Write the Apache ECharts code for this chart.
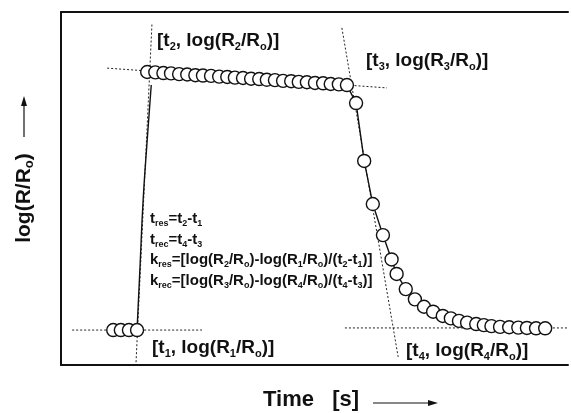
<!DOCTYPE html>
<html>
<head>
<meta charset="utf-8">
<script src="https://cdn.jsdelivr.net/npm/echarts@6/dist/echarts.min.js"></script>
<style>
html, body { margin: 0; padding: 0; background: #fff; }
#chart { width: 571px; height: 413px; }
</style>
</head>
<body>
<div id="chart"></div>
<script>
// time axis runs 0-100, log(R/Ro) axis 0-10 (no scale printed in the figure)
var baseTime = [10.3, 11.8, 13.4, 15.0];
var baseLog = [0.99, 0.99, 0.99, 0.99];

var plateauTime = [17.0, 18.6, 20.2, 21.7, 23.3, 24.9, 26.5, 28.0, 29.6, 31.2, 32.8, 34.3, 35.9,
    37.5, 39.1, 40.6, 42.2, 43.8, 45.4, 46.9, 48.5, 50.1, 51.7, 53.2, 54.8, 56.4];
var plateauLog = [8.30, 8.29, 8.27, 8.26, 8.24, 8.23, 8.21, 8.20, 8.19, 8.17, 8.16, 8.14, 8.13,
    8.11, 8.10, 8.08, 8.07, 8.05, 8.04, 8.02, 8.01, 7.99, 7.98, 7.96, 7.95, 7.93];

var decayTime = [58.2, 59.8, 61.5, 63.5, 65.2, 66.2, 68.0, 69.8, 71.6, 73.4, 75.3, 76.9,
    78.5, 80.1, 81.9, 83.4, 84.9, 86.6, 88.4, 90.2, 91.9, 93.7, 95.5];
var decayLog = [7.42, 5.78, 4.56, 3.68, 2.99, 2.58, 2.15, 1.86, 1.65, 1.51, 1.39, 1.32,
    1.25, 1.20, 1.16, 1.13, 1.10, 1.08, 1.07, 1.06, 1.05, 1.04, 1.04];

// solid line of the rise
var riseTime = [15.0, 15.6, 16.2, 17.0, 17.8];
var riseLog = [0.99, 2.83, 4.67, 6.37, 7.93];

// dotted tangent / guide lines, [start, end]
var guideRise = [[14.8, 0.08], [17.95, 9.69]];
var guideBase = [[2.2, 0.99], [27.8, 0.99]];
var guidePlateau = [[9.1, 8.41], [64.3, 7.85]];
var guideDecay = [[55.4, 9.55], [66.5, 0.23]];
var guideTail = [[56.0, 1.05], [100, 1.05]];

function pairs(xs, ys) {
    return xs.map(function (x, i) { return [x, ys[i]]; });
}

var circles = pairs(baseTime, baseLog)
    .concat(pairs(plateauTime, plateauLog))
    .concat(pairs(decayTime, decayLog));

var decayLine = [[plateauTime[plateauTime.length - 1], plateauLog[plateauLog.length - 1]]]
    .concat(pairs(decayTime, decayLog));

var font = 'Liberation Sans, Arial, sans-serif';

function guide(data) {
    return {
        type: 'line', data: data, symbol: 'none', silent: true,
        lineStyle: { color: '#222', width: 1, type: [2, 2] }
    };
}

function label(text, x, y, size, subSize) {
    return {
        type: 'text', x: x, y: y, z: 100,
        style: {
            text: text, fill: '#111', font: 'bold ' + size + 'px ' + font,
            fontSize: size, fontWeight: 'bold', fontFamily: font,
            textAlign: 'left', textVerticalAlign: 'middle', lineHeight: size + 3,
            rich: {
                s: { fontSize: subSize, fontWeight: 'bold', fontFamily: font,
                     lineHeight: Math.round(subSize * 0.7), verticalAlign: 'bottom', fill: '#111' }
            }
        }
    };
}

var myChart = echarts.init(document.getElementById('chart'), null, { renderer: 'canvas' });

var option = {
    animation: false,
    backgroundColor: '#fff',
    grid: { left: 61, top: 12, right: 3, bottom: 48 },
    xAxis: [
        { type: 'value', min: 0, max: 100, position: 'bottom',
          axisLine: { lineStyle: { color: '#111', width: 2 } },
          axisTick: { show: false }, axisLabel: { show: false }, splitLine: { show: false } },
        { type: 'value', min: 0, max: 100, position: 'top',
          axisLine: { lineStyle: { color: '#111', width: 2 } },
          axisTick: { show: false }, axisLabel: { show: false }, splitLine: { show: false } }
    ],
    yAxis: {
        type: 'value', min: 0, max: 10,
        axisLine: { show: true, lineStyle: { color: '#111', width: 2 } },
        axisTick: { show: false }, axisLabel: { show: false }, splitLine: { show: false }
    },
    series: [
        guide(guideRise), guide(guideBase), guide(guidePlateau), guide(guideDecay), guide(guideTail),
        {
            type: 'line', data: pairs(riseTime, riseLog), symbol: 'none', smooth: true,
            lineStyle: { color: '#111', width: 1.4 }
        },
        {
            type: 'line', data: decayLine, symbol: 'none',
            lineStyle: { color: '#111', width: 1.4 }
        },
        {
            type: 'scatter', data: circles, symbol: 'circle', symbolSize: 13, z: 10,
            itemStyle: { color: '#fff', borderColor: '#111', borderWidth: 1.4, opacity: 1 }
        }
    ],
    graphic: [
        label('[t{s|2}, log(R{s|2}/R{s|o})]', 157, 41, 19, 11),
        label('[t{s|3}, log(R{s|3}/R{s|o})]', 366, 61, 19, 11),
        label('[t{s|1}, log(R{s|1}/R{s|o})]', 152, 348, 19, 11),
        label('[t{s|4}, log(R{s|4}/R{s|o})]', 406, 351, 19, 11),
        label('t{s|res}=t{s|2}-t{s|1}', 150, 219, 15, 9),
        label('t{s|rec}=t{s|4}-t{s|3}', 150, 240, 15, 9),
        label('k{s|res}=[log(R{s|2}/R{s|o})-log(R{s|1}/R{s|o})/(t{s|2}-t{s|1})]', 150, 260, 15, 9),
        label('k{s|rec}=[log(R{s|3}/R{s|o})-log(R{s|4}/R{s|o})/(t{s|4}-t{s|3})]', 150, 281, 15, 9),
        // axis titles
        {
            type: 'text', x: 263, y: 400, z: 100,
            style: { text: 'Time   [s]', fill: '#111', font: 'bold 22px ' + font,
                     textAlign: 'left', textVerticalAlign: 'middle' }
        },
        {
            type: 'line', z: 100,
            shape: { x1: 373, y1: 403, x2: 432, y2: 403 },
            style: { stroke: '#111', lineWidth: 1 }
        },
        {
            type: 'polygon', z: 100,
            shape: { points: [[438, 403], [428, 400], [428, 406]] },
            style: { fill: '#111' }
        },
        {
            type: 'text', x: 24, y: 198, rotation: Math.PI / 2, z: 100,
            style: {
                text: 'log(R/R{s|o})', fill: '#111', font: 'bold 21px ' + font,
                textAlign: 'center', textVerticalAlign: 'middle', lineHeight: 24,
                rich: { s: { fontSize: 13, fontWeight: 'bold', fontFamily: font,
                             lineHeight: 10, verticalAlign: 'bottom', fill: '#111' } }
            }
        },
        {
            type: 'line', z: 100,
            shape: { x1: 24, y1: 137, x2: 24, y2: 103 },
            style: { stroke: '#111', lineWidth: 1.2 }
        },
        {
            type: 'polygon', z: 100,
            shape: { points: [[24, 96], [21, 106], [27, 106]] },
            style: { fill: '#111' }
        }
    ]
};

myChart.setOption(option);
</script>
</body>
</html>
